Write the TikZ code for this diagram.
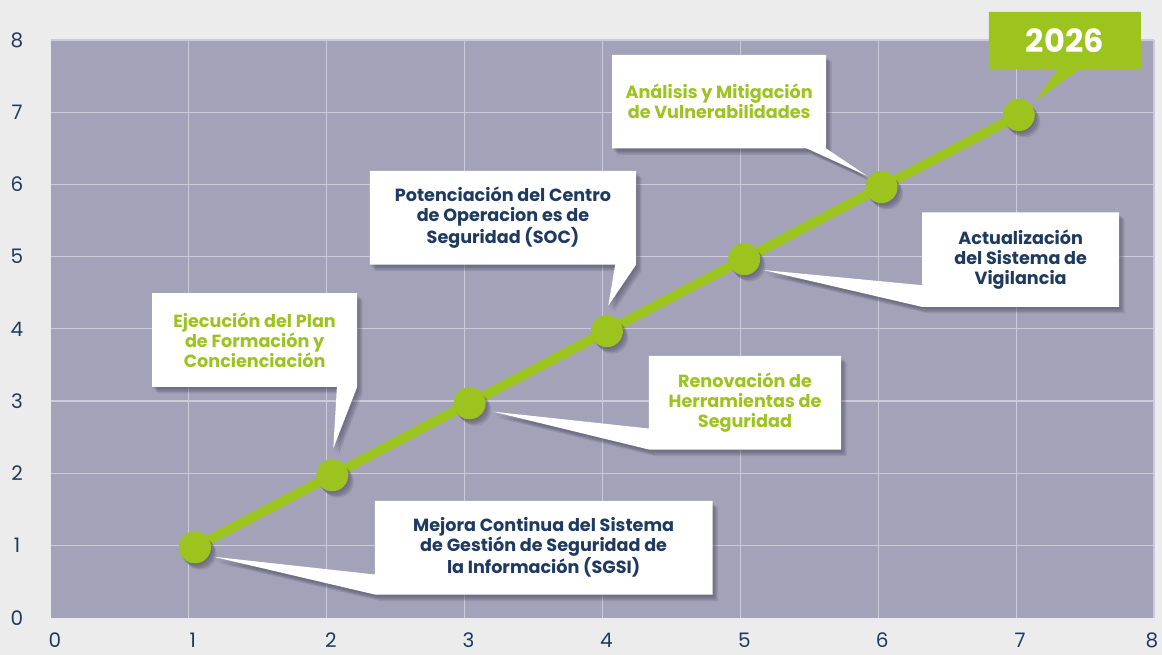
\documentclass[tikz,border=0pt]{standalone}
\usepackage{fontspec}
\setmainfont{Poppins}
\usetikzlibrary{calc,shadows}
\definecolor{navy}{HTML}{1F3A60}
\definecolor{lime}{HTML}{9DC31E}
\definecolor{plotbg}{HTML}{A4A2B8}
\definecolor{gridc}{HTML}{CCCADB}
\definecolor{outerbg}{HTML}{ECECEC}
\definecolor{shad}{HTML}{2A2840}
\pgfdeclarelayer{back}
\pgfdeclarelayer{mid}
\pgfsetlayers{back,mid,main}
\tikzset{
  boxtext/.style={inner sep=0pt, align=center, font=\bfseries\fontsize{17.6}{20}\selectfont},
  softshadow/.style={
    general shadow={fill=shad, opacity=0.10, shadow xshift=1pt, shadow yshift=-2pt},
    general shadow={fill=shad, opacity=0.12, shadow xshift=2.5pt, shadow yshift=-3.5pt},
    general shadow={fill=shad, opacity=0.15, shadow xshift=4pt, shadow yshift=-5pt},
    general shadow={fill=shad, opacity=0.12, shadow xshift=5.5pt, shadow yshift=-6.5pt}},
  callfill/.style={fill=white, softshadow},
  dotnode/.style={circle, fill=lime, minimum size=32pt, inner sep=0pt, softshadow},
  axislab/.style={text=navy, font=\fontsize{20}{22}\selectfont, inner sep=0pt},
  gridline/.style={draw=gridc, line width=1.2pt},
  trend/.style={draw=lime, line width=9.5pt},
}
\begin{document}
\begin{tikzpicture}[x=1pt,y=-1pt]
\useasboundingbox (0,0) rectangle (1162,655);
\begin{pgfonlayer}{back}
\fill[outerbg] (0,0) rectangle (1162,655);
\fill[plotbg] (51,40) rectangle (1154,617.7);
\foreach \i in {1,...,8} \draw[gridline] (51+137.875*\i,40) -- (51+137.875*\i,617.7);
\foreach \j in {1,...,8} \draw[gridline] (51,617.7-72.2125*\j) -- (1154,617.7-72.2125*\j);
\end{pgfonlayer}
% axis labels
\foreach \j in {0,...,8} \node[axislab] (yl\j) at (17,617.7-72.2125*\j) {\j};
\foreach \i in {0,...,7} \node[axislab] (xl\i) at (55+137.875*\i,640) {\i};
\node[axislab] (xl8) at (1152,640) {8};
% data points
\foreach \k in {1,...,7} \coordinate (c\k) at (195+137.3*\k-137.3, 547.3-72.05*\k+72.05);
\draw[trend] (c1) -- (c2) -- (c3) -- (c4) -- (c5) -- (c6) -- (c7);
\foreach \k in {1,...,7} \node[dotnode] (p\k) at (c\k) {};
% pointer tips
\coordinate (t1) at ($(c2)+(1,-27)$);
\coordinate (t2) at ($(c4)+(1.4,-25.5)$);
\coordinate (t3) at ($(c1)+(18.3,9.4)$);
\coordinate (t4) at ($(c3)+(23.7,8.5)$);
\coordinate (t5) at ($(c5)+(19.1,10.9)$);
\coordinate (t6) at ($(c6)+(-14.8,-11.3)$);
\coordinate (t7) at ($(c7)+(16.2,-14)$);
% boxes
\node[boxtext, text=lime, minimum width=204.7pt, minimum height=93.4pt] (b1) at (254.65,340) {Ejecución del Plan\\de Formación y\\Concienciación};
\node[boxtext, text=navy, minimum width=266pt, minimum height=93.3pt] (b2) at (503,217.65) {Potenciación del Centro\\de Operacion es de\\Seguridad (SOC)};
\node[boxtext, text=navy, minimum width=337.3pt, minimum height=93.3pt] (b3) at (543.65,547.65) {Mejora Continua del Sistema\\de Gestión de Seguridad de\\la Información (SGSI)};
\node[boxtext, text=lime, minimum width=192pt, minimum height=93.3pt] (b4) at (745,402.65) {Renovación de\\Herramientas de\\Seguridad};
\node[boxtext, text=navy, minimum width=196.7pt, minimum height=94pt] (b5) at (1020.65,259.7) {Actualización\\del Sistema de\\Vigilancia};
\node[boxtext, text=lime, minimum width=213.7pt, minimum height=93.3pt] (b6) at (719.15,101.65) {Análisis y Mitigación\\de Vulnerabilidades};
\node[inner sep=0pt, minimum width=151.7pt, minimum height=57pt, text=white, font=\bfseries\fontsize{32}{34}\selectfont] (b7) at (1064.85,40.5) {2026};
\begin{pgfonlayer}{mid}
\path[callfill] (b1.north west) -- (b1.north east) -- (b1.south east) -- (t1) -- ($(b1.south east)+(-20.3,0)$) -- (b1.south west) -- cycle;
\path[callfill] (b2.north west) -- (b2.north east) -- (b2.south east) -- (t2) -- ($(b2.south east)+(-21,0)$) -- (b2.south west) -- cycle;
\path[callfill] (b3.north west) -- (b3.north east) -- (b3.south east) -- (b3.south west) -- (t3) -- ($(b3.south west)+(0,-20)$) -- cycle;
\path[callfill] (b4.north west) -- (b4.north east) -- (b4.south east) -- (b4.south west) -- (t4) -- ($(b4.south west)+(0,-21)$) -- cycle;
\path[callfill] (b5.north west) -- (b5.north east) -- (b5.south east) -- (b5.south west) -- (t5) -- ($(b5.south west)+(0,-21.7)$) -- cycle;
\path[callfill] (b6.north west) -- (b6.north east) -- (b6.south east) -- (t6) -- ($(b6.south east)+(-19.3,0)$) -- (b6.south west) -- cycle;
\fill[lime] (b7.north west) -- (b7.north east) -- (b7.south east) -- ($(b7.south west)+(91,0)$) -- (t7) -- ($(b7.south west)+(69,0)$) -- (b7.south west) -- cycle;
\end{pgfonlayer}
\end{tikzpicture}
\end{document}
